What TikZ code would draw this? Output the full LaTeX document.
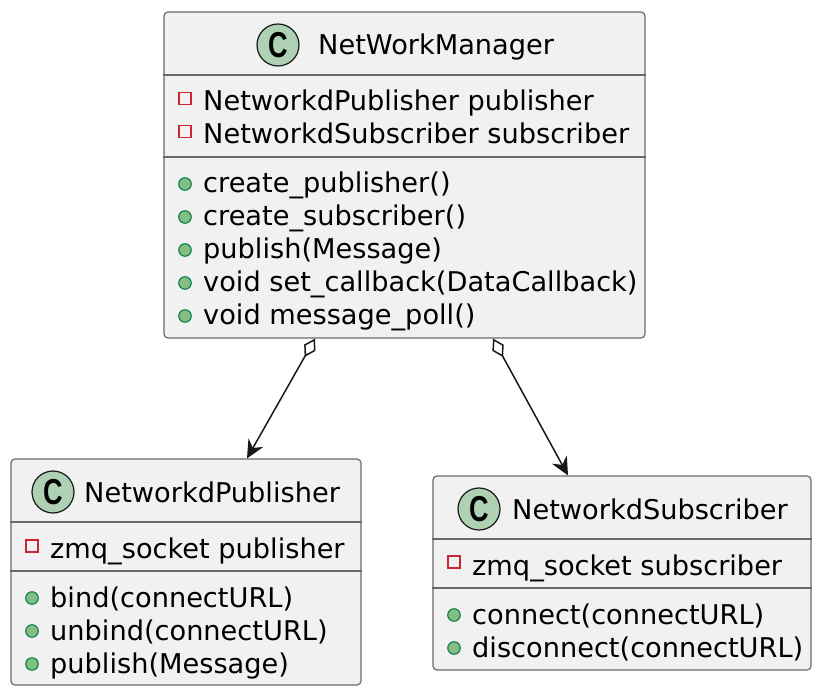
\documentclass[tikz,border=0pt]{standalone}
\usepackage{fontspec}
\setmainfont{DejaVu Sans}
\newfontfamily\badgefont{Liberation Sans}[FakeStretch=0.75]
\usetikzlibrary{arrows.meta}
\definecolor{umlfill}{HTML}{F1F1F1}
\definecolor{umlline}{HTML}{6A6A6A}
\definecolor{umlink}{HTML}{181818}
\definecolor{badgegreen}{HTML}{ADD1B2}
\definecolor{privred}{HTML}{C82930}
\definecolor{pubgreen}{HTML}{038048}
\definecolor{publight}{HTML}{84BE84}

\begin{document}
\begin{tikzpicture}[x=1pt,y=-1pt,
  classbox/.style={draw=umlline, fill=umlfill, line width=1.2pt, rounded corners=4pt, inner sep=0pt},
  badge/.style={circle, draw=umlink, fill=badgegreen, line width=1.2pt, minimum size=42pt, inner sep=0pt,
    font=\badgefont\bfseries\fontsize{36}{36}\selectfont},
  member/.style={anchor=base west, inner sep=0pt, font=\fontsize{27.2}{33}\selectfont},
  privmark/.style={rectangle, draw=privred, line width=1.1pt, minimum width=12pt, minimum height=12pt, inner sep=0pt},
  pubmark/.style={circle, draw=pubgreen, fill=publight, line width=1.1pt, minimum size=12.5pt, inner sep=0pt},
  sep/.style={draw=umlline, line width=1.2pt},
  agg/.style={draw=umlink, line width=1.5pt,
    {Diamond[open,length=21pt,width=13pt]}-{Stealth[length=18pt,width=17pt,inset=6pt]}}]
  \useasboundingbox (0,0) rectangle (822,692);

  \node[classbox, minimum width=481pt, minimum height=326pt] (mgr) at (404.5,175) {};
  \node[badge] (mgrbadge) at (278,45) {C};
  \node[member] (mgrtitle) at (318,55) {NetWorkManager};
  \draw[sep] (mgr.west |- 0,75) -- (mgr.east |- 0,75);
  \draw[sep] (mgr.west |- 0,157) -- (mgr.east |- 0,157);
  \foreach \txt [count=\i] in {NetworkdPublisher publisher, NetworkdSubscriber subscriber} {
    \node[privmark] (mgrattrmark\i) at (185,{65.5+33*\i}) {};
    \node[member] (mgrattr\i) at (203,{78+33*\i}) {\txt};
  }
  \foreach \txt [count=\i] in {create\_publisher(), create\_subscriber(), publish(Message),
      void set\_callback(DataCallback), void message\_poll()} {
    \node[pubmark] (mgropmark\i) at (185,{151+33*\i}) {};
    \node[member] (mgrop\i) at (203,{160+33*\i}) {\txt};
  }

  \node[classbox, minimum width=350pt, minimum height=226pt] (pubcls) at (186,572) {};
  \node[badge] (pubbadge) at (53,492) {C};
  \node[member] (pubtitle) at (84,502) {NetworkdPublisher};
  \draw[sep] (pubcls.west |- 0,522) -- (pubcls.east |- 0,522);
  \draw[sep] (pubcls.west |- 0,571) -- (pubcls.east |- 0,571);
  \node[privmark] (pubattrmark) at (32,546) {};
  \node[member] (pubattr) at (50,558) {zmq\_socket publisher};
  \foreach \txt [count=\i] in {bind(connectURL), unbind(connectURL), publish(Message)} {
    \node[pubmark] (pubopmark\i) at (32,{565+33*\i}) {};
    \node[member] (pubop\i) at (50,{574+33*\i}) {\txt};
  }

  \node[classbox, minimum width=378pt, minimum height=194pt] (subcls) at (622,573) {};
  \node[badge] (subbadge) at (479,509) {C};
  \node[member] (subtitle) at (512,519) {NetworkdSubscriber};
  \draw[sep] (subcls.west |- 0,539) -- (subcls.east |- 0,539);
  \draw[sep] (subcls.west |- 0,588) -- (subcls.east |- 0,588);
  \node[privmark] (subattrmark) at (454,562) {};
  \node[member] (subattr) at (472,575) {zmq\_socket subscriber};
  \foreach \txt [count=\i] in {connect(connectURL), disconnect(connectURL)} {
    \node[pubmark] (subopmark\i) at (454,{582+33*\i}) {};
    \node[member] (subop\i) at (472,{591+33*\i}) {\txt};
  }

  \draw[agg] ([xshift=-89.5pt]mgr.south) -- ([xshift=61pt]pubcls.north);
  \draw[agg] ([xshift=88.5pt]mgr.south) -- ([xshift=-54pt]subcls.north);
\end{tikzpicture}
\end{document}
